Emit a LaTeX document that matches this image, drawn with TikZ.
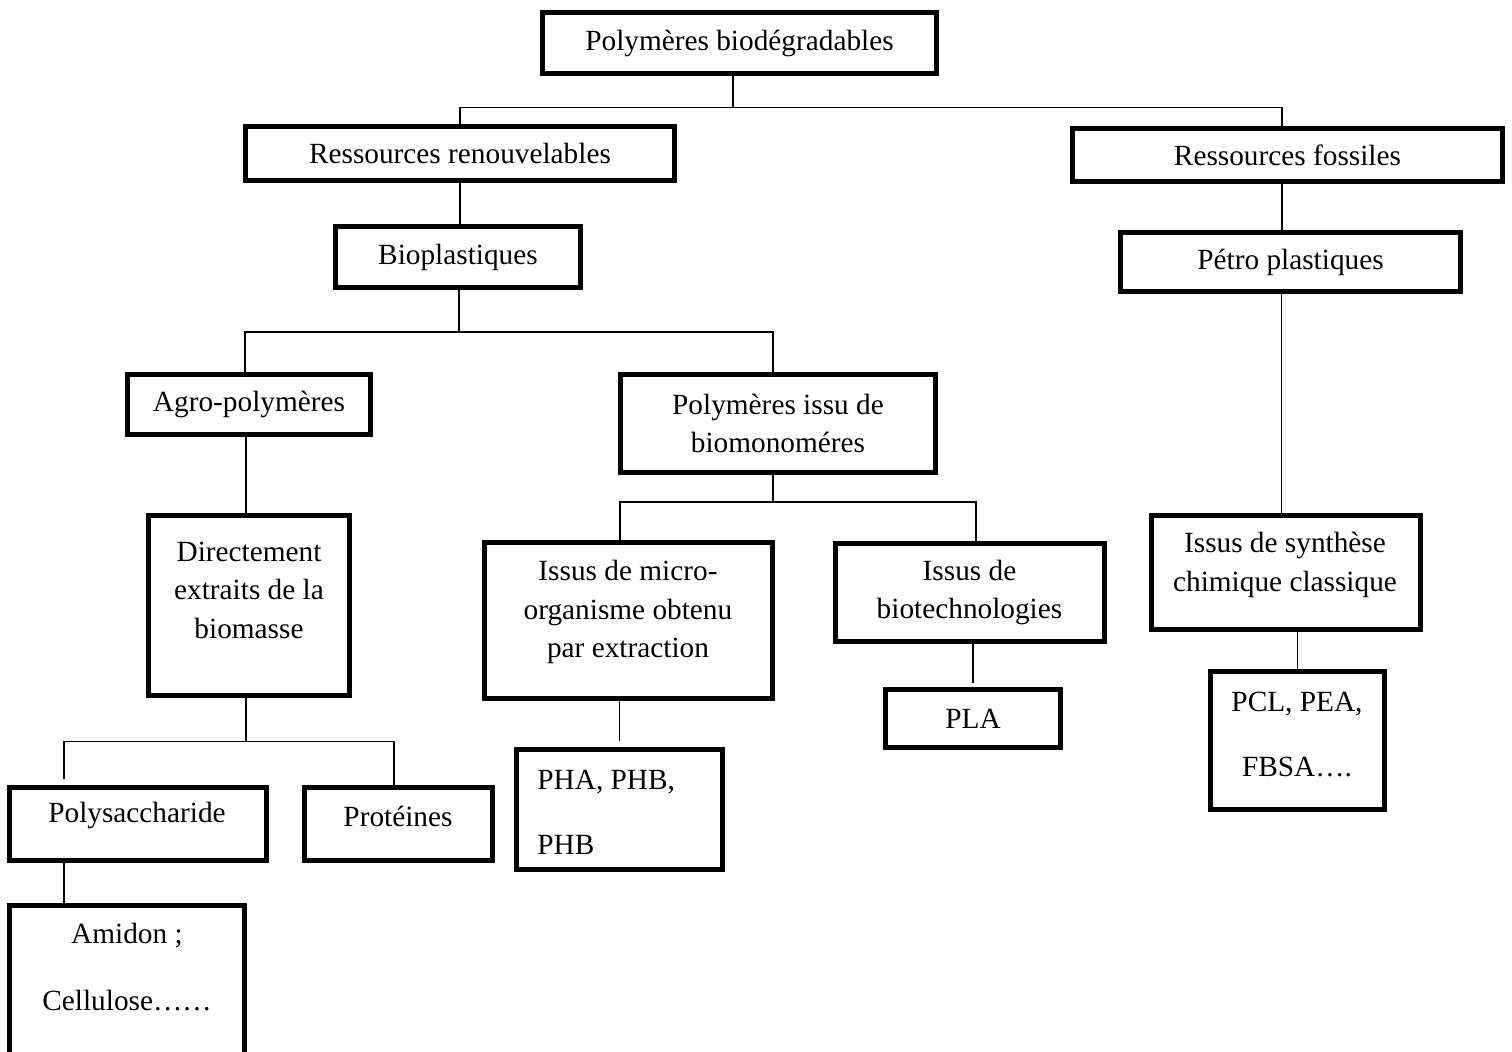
\documentclass[tikz,border=0pt]{standalone}
\usepackage{fontspec}
\setmainfont{Liberation Serif}
\tikzset{
	boite/.style={draw,line width=2.5pt,inner sep=0pt,align=center},
	texte/.style={align=center,inner sep=0pt},
	trait/.style={line width=0.75pt}
}
\begin{document}
\begin{tikzpicture}[x=0.5pt,y=-0.5pt,font=\fontsize{14.65}{19.25}\selectfont]
	\useasboundingbox (0,0) rectangle (1512,1052);
	\clip (0,0) rectangle (1512,1052);
	\node[boite,minimum width=197pt,minimum height=30.5pt] (poly) at (739.5,43) {Polymères biodégradables};
	\node[boite,minimum width=214.5pt,minimum height=27pt] (ren) at (460,153.5) {Ressources renouvelables};
	\node[boite,minimum width=215pt,minimum height=26.5pt] (fos) at (1287.5,155) {Ressources fossiles};
	\node[boite,minimum width=122.5pt,minimum height=30.5pt] (bio) at (458,257) {Bioplastiques};
	\node[boite,minimum width=170pt,minimum height=29.5pt] (petro) at (1290.5,262) {Pétro plastiques};
	\node[boite,minimum width=121.5pt,minimum height=30pt] (agro) at (249,404.5) {Agro-polymères};
	\node[boite,minimum width=157.5pt,minimum height=49pt] (pib) at (778,423.5) {Polymères issu de\\biomonoméres};
	\node[boite,minimum width=100.5pt,minimum height=90pt] (dir) at (249,605.5) {};
	\node[texte] (dir-t) at (249,590) {Directement\\extraits de la\\biomasse};
	\node[boite,minimum width=144pt,minimum height=78pt] (micro) at (628.5,620.5) {};
	\node[texte] (micro-t) at (628,612) {Issus de micro-\\organisme obtenu\\par extraction};
	\node[boite,minimum width=134.5pt,minimum height=49pt] (biotech) at (969.5,592.5) {Issus de\\biotechnologies};
	\node[boite,minimum width=134.5pt,minimum height=57pt] (synth) at (1286,572.5) {};
	\node[texte] (synth-t) at (1285,565) {Issus de synthèse\\chimique classique};
	\node[boite,minimum width=87.5pt,minimum height=29pt] (pla) at (973,718.5) {PLA};
	\node[boite,minimum width=87pt,minimum height=69pt] (pcl) at (1297.5,740.5) {};
	\node[texte] (pcl-t) at (1297,735) {PCL, PEA,\\[13.25pt]FBSA….};
	\node[boite,minimum width=103pt,minimum height=60pt] (pha) at (619.5,809.5) {};
	\node[texte,align=left,anchor=west] (pha-t) at (537,812) {PHA, PHB,\\[13.25pt]PHB};
	\node[boite,minimum width=128.5pt,minimum height=36.5pt] (polys) at (138,824) {};
	\node[texte] (polys-t) at (137,816) {Polysaccharide};
	\node[boite,minimum width=94pt,minimum height=36.5pt] (prot) at (398.5,824) {};
	\node[texte] (prot-t) at (398,816) {Protéines};
	\node[boite,minimum width=117.5pt,minimum height=77.25pt] (amidon) at (127,982.75) {};
	\node[texte] (amidon-t) at (127,967) {Amidon ;\\[14.25pt]Cellulose……};
	\coordinate (b1) at (733,107.5);
	\coordinate (b2) at (459,332);
	\coordinate (b3) at (773,502);
	\coordinate (b4) at (246,741.5);
	\draw[trait] (poly.south -| b1) -- (b1);
	\draw[trait] (ren.north) |- (b1) -| ([xshift=-2.75pt]fos.north);
	\draw[trait] (ren.south) -- (ren.south |- bio.north);
	\draw[trait] ([xshift=-2.75pt]fos.south) -- ([xshift=-2.75pt]fos.south |- petro.north);
	\draw[trait] (bio.south -| b2) -- (b2);
	\draw[trait] ([xshift=-2pt]agro.north) |- (b2) -| ([xshift=-2.5pt]pib.north);
	\draw[trait] ([xshift=-4.5pt]petro.south) -- ([xshift=-4.5pt]petro.south |- synth.north);
	\draw[trait] ([xshift=-1.5pt]agro.south) -- ([xshift=-1.5pt]agro.south |- dir.north);
	\draw[trait] (pib.south -| b3) -- (b3);
	\draw[trait] ([xshift=-4.25pt]micro.north) |- (b3) -| ([xshift=3.25pt]biotech.north);
	\draw[trait] (dir.south -| b4) -- (b4);
	\draw[trait] ([xshift=-37pt,yshift=3pt]polys.north) |- (b4) -| ([xshift=-2.25pt]prot.north);
	\draw[trait] (pha.north |- micro.south) -- ([yshift=3pt]pha.north);
	\draw[trait] (pla.north |- biotech.south) -- ([yshift=2pt]pla.north);
	\draw[trait] (pcl.north |- synth.south) -- (pcl.north);
	\draw[trait] ([xshift=-37pt]polys.south) -- ([xshift=-37pt]polys.south |- amidon.north);
\end{tikzpicture}
\end{document}
